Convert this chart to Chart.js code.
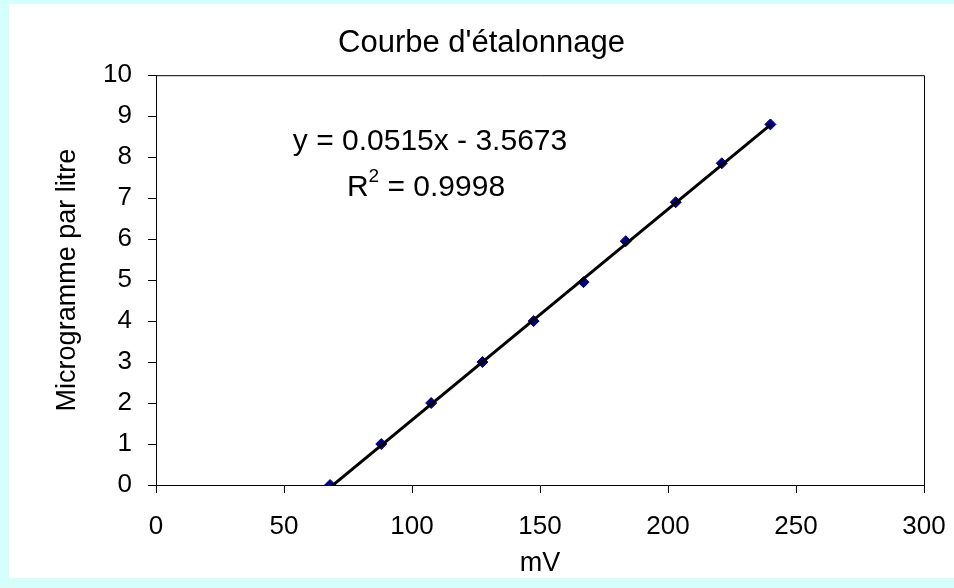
<!DOCTYPE html>
<html lang="fr">
<head>
<meta charset="UTF-8">
<title>Courbe d'étalonnage</title>
<style>
  html, body { margin: 0; padding: 0; }
  body { width: 954px; height: 588px; background: #d4fffb; position: relative; overflow: hidden; }
  #cadre { position: absolute; left: 9px; top: 4px; width: 945px; height: 574px; background: #fff; }
</style>
</head>
<body>
<div id="cadre"><canvas id="courbe"></canvas></div>

<script src="https://cdn.jsdelivr.net/npm/chart.js"></script>
<script>
const mesuresMv = [68, 88, 107.5, 127.5, 147.5, 167, 183.5, 203, 221, 240];
const concentrations = [0, 1, 2, 3, 4, 4.95, 5.95, 6.9, 7.85, 8.8];

// droite de tendance (extremites)
const tendanceMv = [68, 240];
const tendanceConc = [-0.06, 8.79];

const ticksX = [0, 50, 100, 150, 200, 250, 300];
const ticksY = [0, 1, 2, 3, 4, 5, 6, 7, 8, 9, 10];

const equation = 'y = 0.0515x - 3.5673';
const r2 = '0.9998';

const police = '"Liberation Sans", Arial, sans-serif';
const taille = 26;       // graduations
const tailleTitreAxe = 27;
const tailleEq = 30;     // equation

// cadre du haut et de droite + equation de la droite
const extras = {
    id: 'extras',
    afterDatasetsDraw(chart) {
        const ctx = chart.ctx;
        const a = chart.chartArea;
        ctx.save();
        ctx.strokeStyle = '#000';
        ctx.lineWidth = 1;
        ctx.beginPath();
        ctx.moveTo(a.left, a.top + 0.5);
        ctx.lineTo(a.right + 0.5, a.top + 0.5);
        ctx.lineTo(a.right + 0.5, a.bottom);
        ctx.stroke();

        ctx.fillStyle = '#000';
        ctx.textBaseline = 'middle';
        ctx.textAlign = 'center';
        ctx.font = tailleEq + 'px ' + police;
        ctx.fillText(equation, a.left + 274, a.top + 67);

        // R² avec exposant
        ctx.textAlign = 'left';
        const petit = Math.round(tailleEq * 0.62) + 'px ' + police;
        const wR = ctx.measureText('R').width;
        const reste = ' = ' + r2;
        const wReste = ctx.measureText(reste).width;
        ctx.font = petit;
        const w2 = ctx.measureText('2').width;
        const total = wR + w2 + wReste;
        let x = a.left + 270 - total / 2;
        const y = a.top + 113;
        ctx.font = tailleEq + 'px ' + police;
        ctx.fillText('R', x, y);
        x += wR;
        ctx.font = petit;
        ctx.fillText('2', x, y - 11);
        x += w2;
        ctx.font = tailleEq + 'px ' + police;
        ctx.fillText(reste, x, y);
        ctx.restore();
    }
};

new Chart(document.getElementById('courbe'), {
    type: 'scatter',
    data: {
        datasets: [{
            label: 'Tendance',
            type: 'line',
            data: tendanceMv.map((v, i) => ({ x: v, y: tendanceConc[i] })),
            borderColor: '#000',
            borderWidth: 3,
            pointRadius: 0,
            fill: false,
            order: 0
        }, {
            label: 'Mesures',
            data: mesuresMv.map((v, i) => ({ x: v, y: concentrations[i] })),
            pointStyle: 'rectRot',
            pointRadius: 5.5,
            backgroundColor: '#000080',
            borderColor: '#000080',
            borderWidth: 1,
            order: 1
        }]
    },
    options: {
        responsive: true,
        maintainAspectRatio: false,
        animation: false,
        layout: { padding: 0 },
        plugins: {
            legend: { display: false },
            tooltip: { enabled: false },
            title: {
                display: true,
                text: "Courbe d'étalonnage",
                color: '#000',
                font: { family: police, size: 31, weight: 'normal' },
                padding: { top: 21, bottom: 13 }
            }
        },
        scales: {
            x: {
                type: 'linear',
                min: 0,
                max: 300,
                afterBuildTicks: s => { s.ticks = ticksX.map(v => ({ value: v })); },
                afterFit: s => {
                    s.height = 93;
                    s.paddingLeft = 0;
                    s.paddingRight = 30;
                },
                grid: { drawOnChartArea: false, drawTicks: true, tickLength: 8, color: '#000' },
                border: { display: true, color: '#000', width: 1 },
                ticks: { color: '#000', padding: 18, font: { family: police, size: taille } },
                title: {
                    display: true,
                    text: 'mV',
                    color: '#000',
                    font: { family: police, size: tailleTitreAxe },
                    padding: { top: 0, bottom: -2 }
                }
            },
            y: {
                type: 'linear',
                min: 0,
                max: 10,
                afterBuildTicks: s => { s.ticks = ticksY.map(v => ({ value: v })); },
                afterFit: s => { s.width = 147; },
                grid: { drawOnChartArea: false, drawTicks: true, tickLength: 8, color: '#000' },
                border: { display: true, color: '#000', width: 1 },
                ticks: { color: '#000', padding: 16, font: { family: police, size: taille } },
                title: {
                    display: true,
                    text: 'Microgramme par litre',
                    color: '#000',
                    font: { family: police, size: tailleTitreAxe },
                    padding: { top: 42, bottom: 0 }
                }
            }
        }
    },
    plugins: [extras]
});
</script>
</body>
</html>
